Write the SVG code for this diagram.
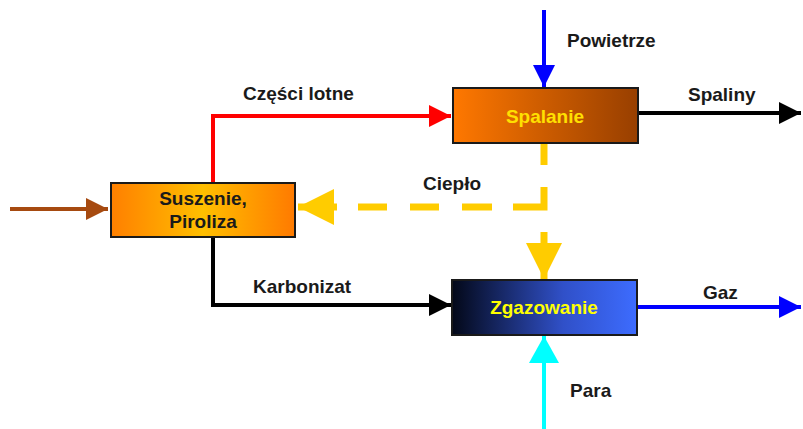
<svg xmlns="http://www.w3.org/2000/svg" width="803" height="429" viewBox="0 0 803 429">
<defs>
<style>
.lbl{font-family:"Liberation Sans",Arial,sans-serif;font-weight:bold;font-size:19px;fill:#1a1a1a}
.ntx{font-family:"Liberation Sans",Arial,sans-serif;font-weight:bold;font-size:19px;text-anchor:middle}
.box{stroke:#1a1a1a;stroke-width:2}
.ln{fill:none;stroke-width:4}
</style>
<linearGradient id="gS" x1="0" y1="0" x2="1" y2="0">
<stop offset="0" stop-color="#ff7f00"/><stop offset="0.5" stop-color="#ffbf00"/><stop offset="1" stop-color="#ff7a00"/>
</linearGradient>
<linearGradient id="gP" x1="0" y1="0" x2="1" y2="0">
<stop offset="0" stop-color="#ff7800"/><stop offset="1" stop-color="#983f00"/>
</linearGradient>
<linearGradient id="gZ" x1="0" y1="0" x2="1" y2="0">
<stop offset="0" stop-color="#030818"/><stop offset="0.6" stop-color="#3050c8"/><stop offset="1" stop-color="#3d6cff"/>
</linearGradient>
<marker id="aBrown" markerUnits="userSpaceOnUse" markerWidth="24" markerHeight="24" refX="22" refY="12" orient="auto"><path d="M0,1 L22,12 L0,23 Z" fill="#a64a10"/></marker>
<marker id="aRed" markerUnits="userSpaceOnUse" markerWidth="24" markerHeight="24" refX="22" refY="12" orient="auto"><path d="M0,1 L22,12 L0,23 Z" fill="#ff0000"/></marker>
<marker id="aBlack" markerUnits="userSpaceOnUse" markerWidth="24" markerHeight="24" refX="22" refY="12" orient="auto"><path d="M0,1 L22,12 L0,23 Z" fill="#000"/></marker>
<marker id="aBlue" markerUnits="userSpaceOnUse" markerWidth="24" markerHeight="24" refX="22" refY="12" orient="auto"><path d="M0,1 L22,12 L0,23 Z" fill="#0000ff"/></marker>
<marker id="aCyan" markerUnits="userSpaceOnUse" markerWidth="30" markerHeight="34" refX="27" refY="17" orient="auto"><path d="M0,2 L27,17 L0,32 Z" fill="#00ffff"/></marker>
<marker id="aYel" markerUnits="userSpaceOnUse" markerWidth="38" markerHeight="38" refX="36" refY="19" orient="auto"><path d="M0,1 L36,19 L0,37 Z" fill="#ffcc00"/></marker>
</defs>
<rect width="803" height="429" fill="#fff"/>
<g id="connectors">
<line class="ln" x1="10" y1="209" x2="108" y2="209" stroke="#a64a10" marker-end="url(#aBrown)"/>
<polyline class="ln" points="213,182 213,116 451,116" stroke="#ff0000" marker-end="url(#aRed)"/>
<polyline class="ln" points="213,237 213,305 451,305" stroke="#000" marker-end="url(#aBlack)"/>
<line class="ln" x1="544" y1="10" x2="544" y2="87" stroke="#0000ff" marker-end="url(#aBlue)"/>
<line class="ln" x1="638" y1="113" x2="801" y2="113" stroke="#000" marker-end="url(#aBlack)"/>
<line class="ln" x1="637" y1="307" x2="801" y2="307" stroke="#0000ff" marker-end="url(#aBlue)"/>
<line class="ln" x1="544" y1="429" x2="544" y2="336" stroke="#00ffff" stroke-width="5" marker-end="url(#aCyan)"/>
<polyline fill="none" stroke="#ffcc00" stroke-width="7" points="544,143 544,165" />
<polyline fill="none" stroke="#ffcc00" stroke-width="7" points="544,187 544,207 513,207" />
<line stroke="#ffcc00" stroke-width="7" x1="492" y1="207" x2="462" y2="207"/>
<line stroke="#ffcc00" stroke-width="7" x1="439" y1="207" x2="410" y2="207"/>
<line stroke="#ffcc00" stroke-width="7" x1="387" y1="207" x2="358" y2="207"/>
<line stroke="#ffcc00" stroke-width="7" x1="337" y1="207" x2="298" y2="207" marker-end="url(#aYel)"/>
<line stroke="#ffcc00" stroke-width="7" x1="544" y1="232" x2="544" y2="279" marker-end="url(#aYel)"/>
<text class="lbl" x="243" y="100">Części lotne</text>
<text class="lbl" x="253" y="293">Karbonizat</text>
<text class="lbl" x="567" y="47">Powietrze</text>
<text class="lbl" x="688" y="101">Spaliny</text>
<text class="lbl" x="423" y="190">Ciepło</text>
<text class="lbl" x="703" y="299">Gaz</text>
<text class="lbl" x="570" y="397">Para</text>
</g>
<g id="suszenie">
<rect class="box" x="111" y="183" width="184" height="54" fill="url(#gS)"/>
<text class="ntx" x="203" y="205" fill="#1a1a1a">Suszenie,</text>
<text class="ntx" x="203" y="228" fill="#1a1a1a">Piroliza</text>
</g>
<g id="spalanie">
<rect class="box" x="453" y="88" width="185" height="55" fill="url(#gP)"/>
<text class="ntx" x="545" y="123" fill="#ffe000">Spalanie</text>
</g>
<g id="zgazowanie">
<rect class="box" x="452" y="280" width="185" height="55" fill="url(#gZ)" stroke="#444"/>
<text class="ntx" x="544" y="314" fill="#ffff00">Zgazowanie</text>
</g>
</svg>
